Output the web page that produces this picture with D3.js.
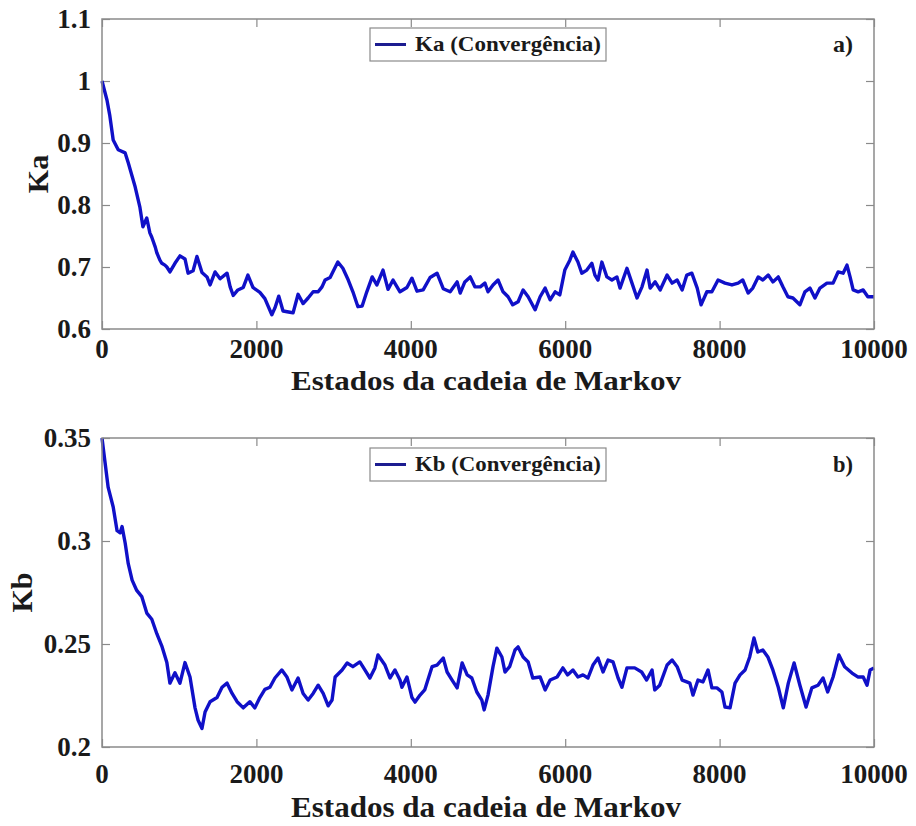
<!DOCTYPE html>
<html><head><meta charset="utf-8">
<script src="https://cdn.jsdelivr.net/npm/d3@7"></script>
<style>
html,body{margin:0;padding:0;background:#fff;}
svg text{font-family:"Liberation Serif","Times New Roman",serif;font-weight:bold;fill:#1a1a1a;}
</style></head>
<body><svg id="chart" width="916" height="826"></svg>
<script>
const kaX = [0,65,100,145,210,300,340,430,490,530,580,620,645,690,710,750,775,815,840,880,945,1010,1075,1115,1180,1230,1295,1360,1400,1465,1530,1620,1660,1700,1760,1830,1890,1955,2045,2110,2200,2240,2290,2345,2435,2475,2540,2605,2670,2735,2800,2850,2890,2955,2990,3055,3120,3190,3250,3315,3370,3430,3500,3560,3640,3705,3770,3860,3950,4015,4080,4160,4250,4340,4420,4510,4600,4640,4700,4770,4830,4900,4960,5000,5065,5130,5195,5260,5320,5390,5455,5520,5610,5675,5740,5805,5870,5930,5995,6060,6100,6165,6215,6280,6345,6385,6425,6475,6540,6605,6670,6710,6800,6865,6930,6995,7060,7100,7165,7230,7320,7385,7450,7515,7575,7640,7710,7760,7835,7900,7980,8070,8160,8240,8300,8370,8430,8500,8560,8630,8690,8760,8820,8885,8950,9040,9105,9170,9235,9300,9390,9470,9535,9600,9650,9690,9730,9795,9860,9920,10000];
const kaY = [1.0,0.969,0.945,0.905,0.889,0.884,0.868,0.829,0.797,0.765,0.779,0.755,0.748,0.732,0.723,0.711,0.706,0.703,0.700,0.692,0.706,0.718,0.713,0.690,0.694,0.717,0.691,0.684,0.671,0.692,0.681,0.690,0.668,0.654,0.663,0.667,0.687,0.667,0.659,0.649,0.623,0.634,0.653,0.629,0.627,0.626,0.656,0.641,0.650,0.660,0.660,0.668,0.679,0.683,0.692,0.708,0.698,0.679,0.660,0.636,0.637,0.660,0.684,0.671,0.695,0.664,0.679,0.660,0.667,0.682,0.661,0.663,0.683,0.690,0.665,0.660,0.676,0.658,0.676,0.684,0.668,0.668,0.674,0.660,0.671,0.679,0.660,0.652,0.639,0.644,0.663,0.652,0.631,0.652,0.666,0.647,0.660,0.655,0.695,0.711,0.724,0.708,0.690,0.695,0.706,0.687,0.679,0.708,0.684,0.679,0.684,0.666,0.698,0.674,0.650,0.668,0.695,0.666,0.676,0.663,0.687,0.674,0.679,0.663,0.687,0.690,0.666,0.639,0.660,0.660,0.679,0.674,0.671,0.674,0.679,0.658,0.666,0.684,0.679,0.687,0.676,0.684,0.668,0.652,0.650,0.639,0.660,0.666,0.650,0.666,0.674,0.674,0.692,0.690,0.703,0.684,0.663,0.660,0.663,0.652,0.652];

const kbX = [0,40,80,145,195,235,260,300,340,390,450,515,580,645,710,775,840,880,945,1010,1075,1140,1205,1245,1295,1335,1400,1490,1555,1620,1685,1750,1830,1915,1980,2045,2110,2175,2240,2330,2395,2460,2540,2605,2670,2735,2800,2865,2930,2980,3020,3110,3175,3250,3340,3405,3470,3535,3575,3665,3730,3795,3860,3885,3950,4015,4055,4120,4180,4275,4340,4420,4470,4535,4600,4665,4730,4790,4855,4920,4950,5000,5065,5115,5180,5220,5280,5350,5390,5455,5520,5580,5675,5740,5805,5895,5970,6030,6100,6165,6230,6295,6360,6425,6490,6555,6620,6685,6735,6800,6900,6990,7055,7125,7160,7225,7320,7385,7450,7515,7575,7615,7655,7720,7785,7850,7900,7965,8030,8070,8135,8200,8265,8330,8390,8445,8495,8560,8625,8690,8760,8825,8890,8965,9040,9120,9195,9275,9340,9400,9470,9545,9620,9715,9790,9860,9910,9950,10000];
const kbY = [0.350,0.338,0.326,0.3165,0.305,0.304,0.307,0.299,0.289,0.281,0.276,0.273,0.265,0.262,0.255,0.249,0.241,0.231,0.236,0.231,0.241,0.234,0.219,0.213,0.209,0.217,0.222,0.224,0.229,0.231,0.226,0.222,0.219,0.222,0.219,0.224,0.228,0.229,0.2335,0.2374,0.234,0.2277,0.2335,0.226,0.2228,0.226,0.230,0.226,0.220,0.2228,0.234,0.2374,0.2408,0.239,0.2413,0.2374,0.2335,0.2384,0.2447,0.2398,0.2335,0.2374,0.2325,0.229,0.234,0.224,0.2218,0.2252,0.2277,0.239,0.2398,0.2432,0.2364,0.2325,0.2287,0.2408,0.235,0.2335,0.2267,0.2228,0.218,0.2252,0.239,0.248,0.2437,0.2364,0.239,0.2471,0.2486,0.2437,0.2413,0.2335,0.234,0.2277,0.2325,0.234,0.2384,0.235,0.2374,0.234,0.235,0.2335,0.2398,0.2432,0.2364,0.2422,0.2413,0.2335,0.229,0.2384,0.2384,0.2364,0.2325,0.2374,0.2277,0.230,0.2398,0.2422,0.239,0.2325,0.2316,0.231,0.2252,0.2325,0.2316,0.2374,0.2287,0.2287,0.2267,0.2194,0.219,0.231,0.235,0.2374,0.2437,0.2529,0.2461,0.2471,0.2437,0.2374,0.229,0.219,0.231,0.2408,0.230,0.2194,0.2287,0.230,0.2335,0.2267,0.234,0.2447,0.239,0.2359,0.234,0.234,0.230,0.2374,0.2384];

const xTicks = [0,2000,4000,6000,8000,10000];
const kaTicks = [0.6,0.7,0.8,0.9,1.0,1.1];
const kaTickLabels = ["0.6","0.7","0.8","0.9","1","1.1"];
const kbTicks = [0.2,0.25,0.3,0.35];
const kbTickLabels = ["0.2","0.25","0.3","0.35"];
const xLabel = "Estados da cadeia de Markov";

const svg = d3.select("#chart");
const LINE = "#1010c8";
const AXIS = "#8a8a8a";

function panel(o){
  const g = svg.append("g");
  const x = d3.scaleLinear().domain([0,10000]).range([o.left,o.right]);
  const y = d3.scaleLinear().domain(o.domain).range([o.bottom,o.top]);
  const tl = 8;
  g.append("g").attr("transform",`translate(0,${o.bottom})`).call(d3.axisTop(x).tickValues(xTicks).tickSize(tl).tickFormat(""));
  g.append("g").attr("transform",`translate(0,${o.top})`).call(d3.axisBottom(x).tickValues(xTicks).tickSize(tl).tickFormat(""));
  g.append("g").attr("transform",`translate(${o.left},0)`).call(d3.axisRight(y).tickValues(o.ticks).tickSize(tl).tickFormat(""));
  g.append("g").attr("transform",`translate(${o.right},0)`).call(d3.axisLeft(y).tickValues(o.ticks).tickSize(tl).tickFormat(""));
  g.selectAll(".domain").remove();
  g.selectAll(".tick line").attr("stroke",AXIS).attr("stroke-width",1.2);
  const pts = o.xs.map((v,i)=>[v,o.ys[i]]);
  g.append("path").datum(pts)
    .attr("d", d3.line().x(d=>x(d[0])).y(d=>y(d[1])))
    .attr("fill","none").attr("stroke",LINE).attr("stroke-width",3.4).attr("stroke-linejoin","round");
  g.append("rect").attr("x",o.left).attr("y",o.top).attr("width",o.right-o.left).attr("height",o.bottom-o.top)
    .attr("fill","none").attr("stroke",AXIS).attr("stroke-width",1.5);
  g.selectAll(".xl").data(xTicks).enter().append("text")
    .attr("x",d=>x(d)).attr("y",o.bottom+o.xTickDy).attr("text-anchor","middle")
    .attr("font-size",27).text(d=>d);
  g.selectAll(".yl").data(o.ticks).enter().append("text")
    .attr("x",o.left-11).attr("y",d=>y(d)+9).attr("text-anchor","end")
    .attr("font-size",27).text((d,i)=>o.tickLabels[i]);
  g.append("text").attr("x",(o.left+o.right)/2 - 2).attr("y",o.bottom+o.xTitleDy)
    .attr("text-anchor","middle").attr("font-size",o.xTitleSize)
    .attr("textLength",390).attr("lengthAdjust","spacingAndGlyphs").text(xLabel);
  g.append("text").attr("transform",`translate(${o.yTitleX},${(o.top+o.bottom)/2}) rotate(-90)`)
    .attr("text-anchor","middle").attr("font-size",30).text(o.yTitle);
  const lg = g.append("g");
  lg.append("rect").attr("x",370).attr("y",o.top+o.legTop).attr("width",236).attr("height",33)
    .attr("fill","#fff").attr("stroke",AXIS).attr("stroke-width",1.2);
  lg.append("line").attr("x1",375).attr("x2",406).attr("y1",o.top+o.legTop+16.5).attr("y2",o.top+o.legTop+16.5)
    .attr("stroke","#1c1c90").attr("stroke-width",3);
  lg.append("text").attr("x",415).attr("y",o.top+o.legTop+23).attr("font-size",21)
    .attr("textLength",186).attr("lengthAdjust","spacingAndGlyphs").text(o.legend);
  g.append("text").attr("x",833).attr("y",o.top+o.legTop+24).attr("font-size",23)
    .attr("textLength",20).attr("lengthAdjust","spacingAndGlyphs").text(o.tag);
}

panel({left:102,right:874,top:19,bottom:329,domain:[0.6,1.1],ticks:kaTicks,tickLabels:kaTickLabels,
  xs:kaX,ys:kaY,yTitle:"Ka",yTitleX:48,legend:"Ka (Convergência)",tag:"a)",legTop:9,xTickDy:29,xTitleDy:61,xTitleSize:27});
panel({left:102,right:874,top:438,bottom:747,domain:[0.2,0.35],ticks:kbTicks,tickLabels:kbTickLabels,
  xs:kbX,ys:kbY,yTitle:"Kb",yTitleX:32,legend:"Kb (Convergência)",tag:"b)",legTop:10,xTickDy:36,xTitleDy:70,xTitleSize:29});
</script></body></html>
